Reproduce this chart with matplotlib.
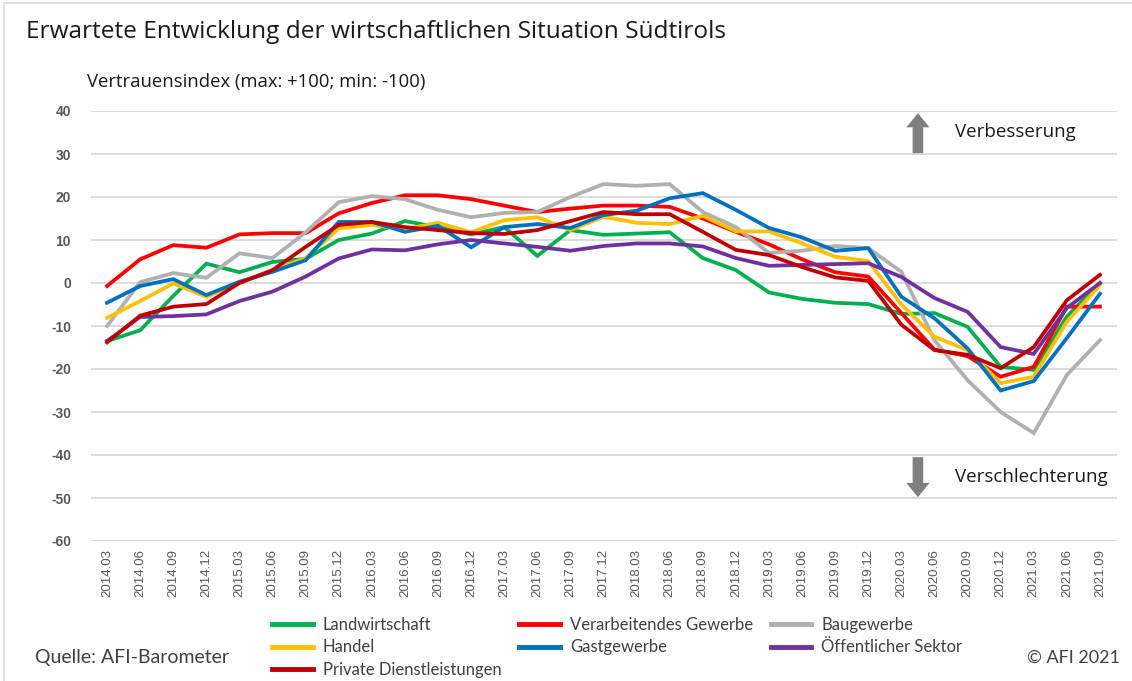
import matplotlib
matplotlib.use("Agg")
import matplotlib.pyplot as plt
from matplotlib.patches import FancyArrow
from matplotlib.lines import Line2D

quarters = ["2014.03", "2014.06", "2014.09", "2014.12",
            "2015.03", "2015.06", "2015.09", "2015.12",
            "2016.03", "2016.06", "2016.09", "2016.12",
            "2017.03", "2017.06", "2017.09", "2017.12",
            "2018.03", "2018.06", "2018.09", "2018.12",
            "2019.03", "2019.06", "2019.09", "2019.12",
            "2020.03", "2020.06", "2020.09", "2020.12",
            "2021.03", "2021.06", "2021.09"]

landwirtschaft = [-13.5, -11.0, -3.0, 4.5, 2.5, 4.9, 5.6, 10.0, 11.5, 14.4, 13.0, 11.3,
                  13.0, 6.3, 12.3, 11.2, 11.5, 11.8, 5.8, 3.0, -2.2, -3.7, -4.6, -4.9,
                  -7.2, -7.0, -10.2, -19.5, -20.2, -7.8, 0.0]
verarbeitendes = [-0.7, 5.5, 8.8, 8.2, 11.3, 11.6, 11.6, 16.2, 18.6, 20.4, 20.4, 19.5,
                  18.0, 16.5, 17.3, 18.0, 18.0, 17.7, 15.0, 11.9, 9.0, 5.5, 2.5, 1.5,
                  -7.0, -15.5, -17.0, -21.8, -19.5, -5.5, -5.5]
baugewerbe = [-10.0, 0.2, 2.3, 1.2, 6.9, 5.8, 11.8, 18.8, 20.2, 19.5, 17.0, 15.3,
              16.3, 16.5, 20.0, 23.0, 22.6, 23.0, 16.5, 13.0, 7.0, 7.5, 8.6, 8.1,
              2.6, -13.3, -22.6, -30.0, -34.9, -21.4, -13.3]
handel = [-8.1, -4.2, -0.1, -3.2, 0.0, 3.0, 5.8, 12.7, 13.5, 12.5, 14.0, 11.8,
          14.6, 15.3, 12.3, 15.4, 14.0, 13.7, 15.6, 12.0, 12.0, 9.2, 6.1, 5.1,
          -5.0, -12.5, -15.6, -23.3, -21.8, -9.0, -0.5]
gastgewerbe = [-4.6, -0.7, 0.9, -2.8, 0.3, 2.6, 5.3, 14.2, 14.2, 11.9, 13.3, 8.3,
               13.0, 13.7, 12.8, 15.8, 16.8, 19.7, 20.9, 17.0, 12.8, 10.6, 7.5, 8.1,
               -3.2, -8.2, -15.2, -25.0, -22.8, -12.8, -2.5]
oeffentlich = [-13.5, -7.9, -7.7, -7.3, -4.2, -2.0, 1.5, 5.7, 7.8, 7.6, 9.0, 10.0,
               9.2, 8.4, 7.5, 8.6, 9.2, 9.2, 8.5, 5.8, 4.0, 4.2, 4.4, 4.6,
               1.4, -3.5, -6.7, -14.9, -16.5, -5.8, 0.0]
private = [-13.8, -7.6, -5.5, -4.9, 0.0, 3.0, 8.4, 13.5, 14.2, 13.0, 12.3, 11.6,
           11.4, 12.3, 14.4, 16.5, 16.0, 16.0, 11.9, 7.7, 6.5, 3.7, 1.3, 0.5,
           -9.7, -15.6, -16.7, -19.8, -14.9, -4.0, 1.9]

series_names = ["Landwirtschaft", "Verarbeitendes Gewerbe", "Baugewerbe", "Handel",
                "Gastgewerbe", "Öffentlicher Sektor", "Private Dienstleistungen"]
series_values = [landwirtschaft, verarbeitendes, baugewerbe, handel,
                 gastgewerbe, oeffentlich, private]
series_colors = ["#00B050", "#FF0000", "#B0B0B0", "#FFC000",
                 "#0070C0", "#7030A0", "#C00000"]
yticks = [40, 30, 20, 10, 0, -10, -20, -30, -40, -50, -60]

W, H = 1132, 681
fig = plt.figure(figsize=(W / 100, H / 100), dpi=100)
ax = fig.add_axes([90.5 / W, 140 / H, 1026 / W, 430 / H])

xs = list(range(len(quarters)))
handles = {}
for name, vals, col in zip(series_names, series_values, series_colors):
    ln, = ax.plot(xs, vals, color=col, lw=2.7, solid_joinstyle="miter")
    handles[name] = ln

ax.set_xlim(-0.5, len(quarters) - 0.5)
ax.set_ylim(-60, 40)
ax.set_yticks(yticks)
ax.set_yticklabels([str(v) for v in yticks], fontsize=10, fontweight="bold",
                   color="#595959", family="Liberation Sans")
ax.set_xticks(xs)
ax.set_xticklabels(quarters, rotation=90, fontsize=9.5, color="#595959",
                   family="Liberation Sans")
ax.tick_params(axis="both", length=0)
ax.tick_params(axis="y", pad=14)
ax.tick_params(axis="x", pad=6)
for s in ax.spines.values():
    s.set_visible(False)
ax.grid(axis="y", color="#D9D9D9", lw=1.3)
ax.set_axisbelow(True)

# arrows
xa = 24.5
ax.add_patch(FancyArrow(xa, 30.2, 0, 9.3, width=0.32, head_width=0.7, head_length=3.3,
                        length_includes_head=True, color="#7F7F7F", lw=0, zorder=5))
ax.add_patch(FancyArrow(xa, -40.5, 0, -9.3, width=0.32, head_width=0.7, head_length=3.3,
                        length_includes_head=True, color="#7F7F7F", lw=0, zorder=5))

def fx(px):
    return px / W

def fy(py):
    return 1 - py / H

fig.text(fx(955), fy(132), "Verbesserung", fontsize=13.5, family="Open Sans",
         va="center", ha="left", color="#1a1a1a")
fig.text(fx(955), fy(477), "Verschlechterung", fontsize=13.5, family="Open Sans",
         va="center", ha="left", color="#1a1a1a")

fig.text(fx(26), fy(32), "Erwartete Entwicklung der wirtschaftlichen Situation Südtirols",
         fontsize=17.6, family="Open Sans", va="center", ha="left", color="#1a1a1a")
fig.text(fx(87), fy(82), "Vertrauensindex (max: +100; min: -100)",
         fontsize=13.3, family="Open Sans", va="center", ha="left", color="#1a1a1a")

fig.text(fx(35), fy(657), "Quelle: AFI-Barometer", fontsize=14,
         family="Lato", va="center", ha="left", color="#404040")
fig.text(fx(1120), fy(658), "© AFI 2021", fontsize=13,
         family="Lato", va="center", ha="right", color="#404040")

order = ["Landwirtschaft", "Handel", "Private Dienstleistungen",
         "Verarbeitendes Gewerbe", "Gastgewerbe",
         "Baugewerbe", "Öffentlicher Sektor"]
leg_handles = [Line2D([0], [0], color=handles[n].get_color(), lw=3.5) for n in order]
leg = fig.legend(leg_handles, order, loc="upper left",
                 bbox_to_anchor=(fx(272), fy(617)), ncol=3, frameon=False,
                 prop={"family": "Lato", "size": 12},
                 handlelength=2.45, handletextpad=0.6, columnspacing=1.05,
                 labelspacing=0.38, borderpad=0, borderaxespad=0)
for t in leg.get_texts():
    t.set_color("#404040")

# frame lines (top / left)
fig.add_artist(Line2D([fx(4), 1], [fy(3), fy(3)], color="#D9D9D9", lw=1.2))
fig.add_artist(Line2D([fx(4), fx(4)], [fy(3), 0], color="#D9D9D9", lw=1.2))

fig.savefig("out.png", dpi=100)
